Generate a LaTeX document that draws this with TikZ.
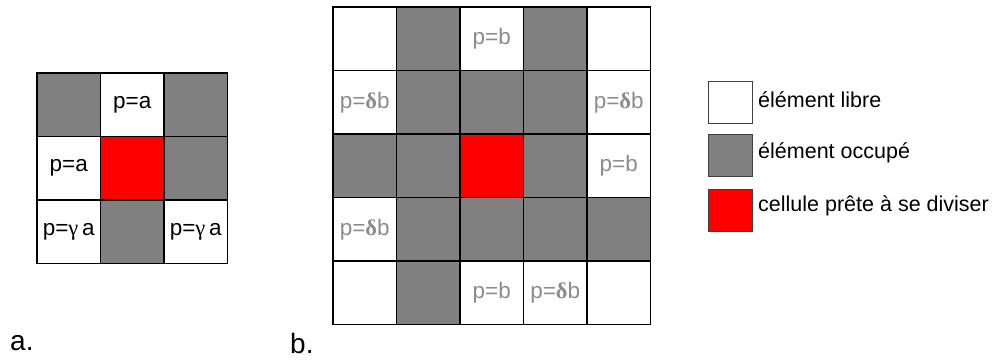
\documentclass[tikz,border=0pt]{standalone}
\usepackage{fontspec}
\setmainfont{Liberation Sans}
\newfontfamily\greekfont{Liberation Serif}
\definecolor{occupied}{RGB}{128,128,128}
\definecolor{divred}{RGB}{255,0,0}
\definecolor{probgrey}{RGB}{140,140,140}
\newcommand{\gam}{{\greekfont γ}\,}
\newcommand{\dlt}{{\greekfont\bfseries δ}}

\begin{document}
\begin{tikzpicture}[
    x=1pt, y=-1pt,
    cell/.style={draw=black, line width=1.5pt, minimum size=63.5pt, inner sep=0pt,
        font=\fontsize{22.5}{24}\selectfont},
    free/.style={cell, fill=white},
    busy/.style={cell, fill=occupied},
    ready/.style={cell, fill=divred},
    bfree/.style={free, text=probgrey},
    key/.style={draw=black!75, line width=.8pt, minimum width=44pt,
        minimum height=42pt, inner sep=0pt},
    keytext/.style={font=\fontsize{21.5}{24}\selectfont, anchor=west, inner sep=0pt},
    caption/.style={font=\fontsize{28}{30}\selectfont, anchor=west, inner sep=0pt},
]
    \useasboundingbox (0,0) rectangle (999,362);

    %% a. the 3x3 neighbourhood
    \foreach \r/\c/\kind/\txt in {0/0/busy/{}, 0/1/free/{p=a}, 0/2/busy/{},
            1/0/free/{p=a}, 1/1/ready/{}, 1/2/busy/{},
            2/0/free/{p=\gam a}, 2/1/busy/{}, 2/2/free/{p=\gam a}}
        \node[\kind] (a-\r-\c) at (68.75+63.5*\c, 104.75+63.5*\r) {\txt};

    %% b. the 5x5 neighbourhood
    \foreach \r/\c/\kind/\txt in {0/0/bfree/{}, 0/1/busy/{}, 0/2/bfree/{p=b},
            0/3/busy/{}, 0/4/bfree/{},
            1/0/bfree/{p=\dlt b}, 1/1/busy/{}, 1/2/busy/{}, 1/3/busy/{},
            1/4/bfree/{p=\dlt b},
            2/0/busy/{}, 2/1/busy/{}, 2/2/ready/{}, 2/3/busy/{}, 2/4/bfree/{p=b},
            3/0/bfree/{p=\dlt b}, 3/1/busy/{}, 3/2/busy/{}, 3/3/busy/{},
            3/4/busy/{},
            4/0/bfree/{}, 4/1/busy/{}, 4/2/bfree/{p=b}, 4/3/bfree/{p=\dlt b},
            4/4/bfree/{}}
        \node[\kind] (b-\r-\c) at (364.75+63.5*\c, 38.75+63.5*\r) {\txt};

    %% legend
    \node[key, fill=white] (keyfree) at (730, 102.5) {};
    \node[key, fill=occupied] (keybusy) at (730, 155.5) {};
    \node[key, fill=divred] (keyready) at (730, 210.5) {};
    \node[keytext] (txtfree) at (758, 100) {élément libre};
    \node[keytext] (txtbusy) at (758, 153) {élément occupé};
    \node[keytext] (txtready) at (758, 206) {cellule prête à se diviser};

    %% captions
    \node[caption] (capa) at (10, 343) {a.};
    \node[caption] (capb) at (290, 343) {b.};
\end{tikzpicture}
\end{document}
